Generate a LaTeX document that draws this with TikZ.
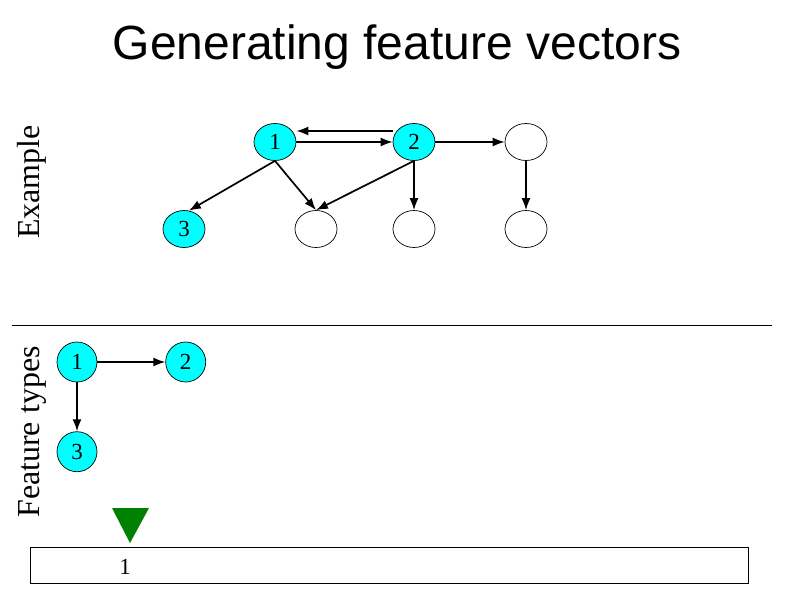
\documentclass[tikz,border=0pt]{standalone}
\usepackage{fontspec}
\setmainfont{Liberation Serif}
\newfontfamily\titlefont{Liberation Sans}
\usepackage{tikz}
\usetikzlibrary{shapes, arrows.meta, calc, positioning}
\definecolor{nodecyan}{RGB}{0,255,255}
\definecolor{markgreen}{RGB}{0,128,0}
\tikzset{
    -{Latex[length=12pt,width=9pt]}, % all edges are arrows
    state/.style ={ellipse, draw, line width=0.7pt, minimum width=42pt, minimum height=37pt, inner sep=0pt, font=\fontsize{23}{25}\selectfont}, % node of the graph
    typed/.style ={state, fill=nodecyan}, % node that has a type
    side/.style = {rotate=90, font=\fontsize{32}{34}\selectfont} % label of a part of the slide
}
\begin{document}
\begin{tikzpicture}[x=1pt, y=-1pt, line width=1.7pt]
        \useasboundingbox (0,0) rectangle (794,595);
        \node[font=\titlefont\fontsize{48}{50}\selectfont] (title) at (397,47) {Generating feature vectors};

        % example graph
        \node[side] (example) at (32,182) {Example};
        \node[typed] (e1) at (275,142) {1};
        \node[typed] (e2) at (414,142) {2};
        \node[state] (ea) at (526,142) {};
        \node[typed] (e3) at (184,229) {3};
        \node[state] (eb) at (316,229) {};
        \node[state] (ec) at (414,229) {};
        \node[state] (ed) at (526,229) {};
        \path (e1) edge (e2);
        \path ([yshift=11pt]e2.west) edge ([yshift=11pt]e1.east);
        \path (e2) edge (ea);
        \path (ea) edge (ed);
        \path (e1.south) edge (e3.75);
        \path (e1.south) edge (eb.north);
        \path (e2.south) edge (eb.north);
        \path (e2.south) edge (ec.north);

        \draw[-, line width=0.8pt] (12,325) -- (772,325);

        % feature types
        \node[side] (types) at (32,432) {Feature types};
        \begin{scope}[node distance=49pt and 68pt]
        \node[typed, minimum height=40pt, minimum width=40pt] (f1) at (77,362) {1};
        \node[typed, minimum height=40pt, minimum width=40pt] (f2) [right =of f1] {2};
        \node[typed, minimum height=40pt, minimum width=40pt] (f3) [below =of f1] {3};
        \end{scope}
        \path (f1) edge (f2);
        \path (f1) edge (f3);

        % feature vector
        \fill[markgreen] (112,508) -- (149,508) -- (130,543) -- cycle;
        \node[draw, line width=0.8pt, minimum width=718pt, minimum height=36pt] (vector) at (389,565) {};
        \node[font=\fontsize{23}{25}\selectfont] (v1) at (125,567) {1};
\end{tikzpicture}
\end{document}
